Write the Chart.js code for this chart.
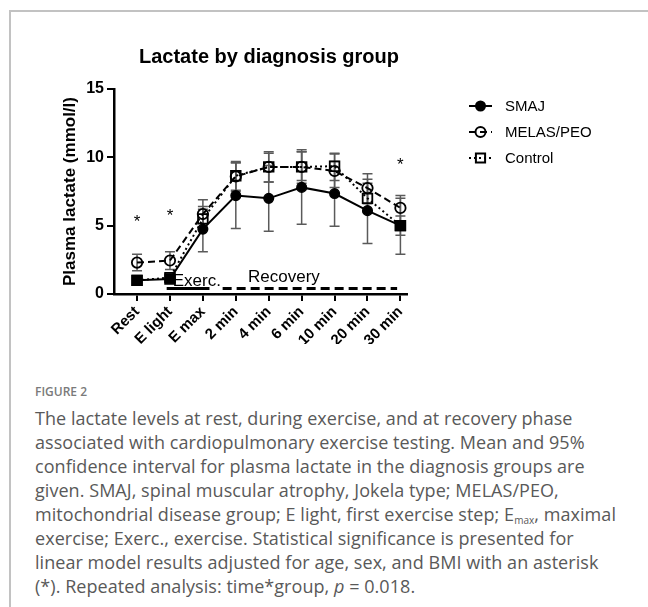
<!DOCTYPE html>
<html>
<head>
<meta charset="utf-8">
<script src="https://cdn.jsdelivr.net/npm/chart.js@4.4.0/dist/chart.umd.min.js"></script>
<style>
body { margin: 0; background: #fff; width: 648px; height: 607px; overflow: hidden; position: relative; }
#frame { position: absolute; left: 9px; top: 10px; width: 650px; height: 610px; border-top: 2px solid #c2c2c2; border-left: 2px solid #c2c2c2; }
#chartOne { position: absolute; left: 0; top: 0; }
#figLabel { position: absolute; left: 35px; top: 383px; font: 600 12px "Open Sans", sans-serif; color: #7a7a7a; }
#caption { position: absolute; left: 35px; top: 406px; font: 18px "Open Sans", sans-serif; letter-spacing: 0.05px; line-height: 24px; color: #595959; white-space: nowrap; }
#caption sub { font-size: 10px; vertical-align: -3px; line-height: 0; }
</style>
</head>
<body>
<div id="frame"></div>
<canvas id="chartOne" width="648" height="350"></canvas>
<div id="figLabel">FIGURE 2</div>
<div id="caption">The lactate levels at rest, during exercise, and at recovery phase<br>associated with cardiopulmonary exercise testing. Mean and 95%<br>confidence interval for plasma lactate in the diagnosis groups are<br>given. SMAJ, spinal muscular atrophy, Jokela type; MELAS/PEO,<br>mitochondrial disease group; E light, first exercise step; E<sub>max</sub>, maximal<br>exercise; Exerc., exercise. Statistical significance is presented for<br>linear model results adjusted for age, sex, and BMI with an asterisk<br>(*). Repeated analysis: time*group, <i>p</i> = 0.018.</div>
<script>
var categories = ["Rest", "E light", "E max", "2 min", "4 min", "6 min", "10 min", "20 min", "30 min"]

var smajMean = [1.0, 1.1, 4.75, 7.2, 7.0, 7.8, 7.35, 6.1, 5.0]
var smajLow = [0.8, 0.9, 3.1, 4.8, 4.6, 5.1, 4.95, 3.7, 2.9]
var smajHigh = [1.2, 1.4, 6.4, 9.6, 9.4, 10.4, 9.7, 8.4, 7.0]

var melasMean = [2.3, 2.45, 5.85, 8.6, 9.3, 9.3, 9.0, 7.75, 6.3]
var melasLow = [1.7, 1.8, 4.8, 7.5, 8.2, 8.1, 7.8, 6.6, 5.3]
var melasHigh = [2.9, 3.1, 6.9, 9.7, 10.4, 10.55, 10.25, 8.8, 7.2]

var controlMean = [1.0, 1.2, 5.5, 8.65, 9.3, 9.3, 9.35, 7.0, 5.0]
var controlLow = [0.9, 1.0, 4.8, 7.6, 8.2, 8.3, 8.3, 6.0, 4.3]
var controlHigh = [1.2, 1.4, 6.2, 9.6, 10.3, 10.4, 10.3, 8.1, 5.7]

var yTicks = [0, 5, 10, 15]

// asterisks: category index and height (mmol/l)
var starAt = [0, 1, 8]
var starHeight = [5.5, 5.9, 9.6]

// phase bars under the curves
var exercPhase = [0.9, 2.2]
var recoveryPhase = [2.6, 7.9]
var phaseLevel = 0.4

function points(values) {
    return values.map(function (v, i) { return { x: i, y: v } })
}

var font = "'Liberation Sans', Arial, sans-serif"

var errorBars = {
    id: "errorBars",
    beforeDatasetsDraw: function (chart) {
        var ctx = chart.ctx
        var xs = chart.scales.x
        var ys = chart.scales.y
        ctx.save()
        ctx.strokeStyle = "#5a5a5a"
        ctx.lineWidth = 1.5
        chart.data.datasets.forEach(function (ds) {
            if (!ds.errLow) return
            ds.errLow.forEach(function (lo, i) {
                var x = xs.getPixelForValue(i)
                var y1 = ys.getPixelForValue(lo)
                var y2 = ys.getPixelForValue(ds.errHigh[i])
                ctx.beginPath()
                ctx.moveTo(x, y1); ctx.lineTo(x, y2)
                ctx.moveTo(x - 5, y1); ctx.lineTo(x + 5, y1)
                ctx.moveTo(x - 5, y2); ctx.lineTo(x + 5, y2)
                ctx.stroke()
            })
        })
        ctx.restore()
    }
}

function marker(ctx, style, r, filled, x, y) {
    ctx.beginPath()
    if (style === "rect") {
        var s = r * Math.SQRT1_2
        ctx.rect(x - s, y - s, 2 * s, 2 * s)
    } else {
        ctx.arc(x, y, r, 0, Math.PI * 2)
    }
    if (filled) ctx.fill()
    ctx.stroke()
}

var extras = {
    id: "extras",
    afterDraw: function (chart) {
        var ctx = chart.ctx
        var xs = chart.scales.x
        var ys = chart.scales.y
        ctx.save()
        ctx.fillStyle = "#000"
        ctx.textAlign = "center"
        ctx.textBaseline = "middle"
        ctx.font = "bold 20px " + font
        ctx.fillText("Lactate by diagnosis group", 269, 57)

        ctx.font = "17px " + font
        starAt.forEach(function (c, i) {
            ctx.fillText("*", xs.getPixelForValue(c), ys.getPixelForValue(starHeight[i]) + 3)
        })

        ctx.font = "17px " + font
        ctx.textAlign = "left"
        ctx.fillText("Exerc.", xs.getPixelForValue(exercPhase[0]) + 6, 281)
        ctx.fillText("Recovery", 248, 277)

        // legend
        chart.data.datasets.forEach(function (ds, i) {
            if (!ds.legend) return
            var y = 106 + 26 * i
            ctx.strokeStyle = "#000"
            ctx.fillStyle = "#000"
            ctx.lineWidth = 2
            ctx.setLineDash(ds.borderDash || [])
            ctx.beginPath()
            ctx.moveTo(469, y); ctx.lineTo(492, y)
            ctx.stroke()
            ctx.setLineDash([])
            ctx.lineWidth = 2
            marker(ctx, ds.legendStyle, ds.legendRadius, ds.legendFilled, 480.5, y)
            ctx.font = "15px " + font
            ctx.fillText(ds.label, 505, y + 1)
        })
        ctx.restore()
    }
}

var getChartOne = document.getElementById("chartOne")

var chartOne = new Chart(getChartOne, {
    type: "line",
    data: {
        datasets: [{
            label: "SMAJ",
            data: points(smajMean),
            errLow: smajLow,
            errHigh: smajHigh,
            legend: true, legendStyle: "circle", legendRadius: 4.5, legendFilled: true,
            borderColor: "#000",
            backgroundColor: "#000",
            borderWidth: 2,
            pointStyle: ["rect", "rect", "circle", "circle", "circle", "circle", "circle", "circle", "rect"],
            pointRadius: [7, 7, 4.8, 4.8, 4.8, 4.8, 4.8, 4.8, 7],
            pointBorderWidth: 1.5
        }, {
            label: "MELAS/PEO",
            data: points(melasMean),
            errLow: melasLow,
            errHigh: melasHigh,
            legend: true, legendStyle: "circle", legendRadius: 5, legendFilled: false,
            borderColor: "#000",
            backgroundColor: "rgba(0,0,0,0)",
            borderWidth: 2,
            borderDash: [7, 4],
            pointStyle: "circle",
            pointRadius: 5.2,
            pointBorderWidth: 1.8
        }, {
            label: "Control",
            data: points(controlMean),
            errLow: controlLow,
            errHigh: controlHigh,
            legend: true, legendStyle: "rect", legendRadius: 6.5, legendFilled: false,
            borderColor: "#000",
            backgroundColor: "rgba(0,0,0,0)",
            borderWidth: 2,
            borderDash: [2, 3],
            pointStyle: "rect",
            pointRadius: 6.8,
            pointBorderWidth: 1.8
        }, {
            label: "Exerc.",
            data: [{ x: exercPhase[0], y: phaseLevel }, { x: exercPhase[1], y: phaseLevel }],
            borderColor: "#000",
            borderWidth: 3,
            pointRadius: 0
        }, {
            label: "Recovery",
            data: [{ x: recoveryPhase[0], y: phaseLevel }, { x: recoveryPhase[1], y: phaseLevel }],
            borderColor: "#000",
            borderWidth: 3,
            borderDash: [9, 5],
            pointRadius: 0
        }]
    },
    options: {
        responsive: false,
        animation: false,
        devicePixelRatio: 1,
        layout: { padding: { left: 54, top: 89, right: 241, bottom: 6 } },
        plugins: {
            legend: { display: false },
            tooltip: { enabled: false }
        },
        scales: {
            x: {
                type: "linear",
                min: -0.7,
                max: 8.2,
                afterBuildTicks: function (scale) {
                    scale.ticks = categories.map(function (c, i) { return { value: i } })
                },
                afterFit: function (scale) { scale.height = 50 },
                ticks: {
                    color: "#000",
                    font: { family: font, size: 15, weight: "bold" },
                    minRotation: 45,
                    maxRotation: 45,
                    padding: 2,
                    callback: function (v) { return categories[v] }
                },
                grid: { drawOnChartArea: false, color: "#000", lineWidth: 2, tickLength: 7 },
                border: { color: "#000", width: 2.5 }
            },
            y: {
                min: 0,
                max: 15,
                afterBuildTicks: function (scale) {
                    scale.ticks = yTicks.map(function (v) { return { value: v } })
                },
                afterFit: function (scale) { scale.width = 60 },
                ticks: {
                    color: "#000",
                    font: { family: font, size: 16, weight: "bold" },
                    padding: 3
                },
                grid: { drawOnChartArea: false, color: "#000", lineWidth: 2, tickLength: 7 },
                border: { color: "#000", width: 2.5 },
                title: {
                    display: true,
                    text: "Plasma lactate (mmol/l)",
                    color: "#000",
                    font: { family: font, size: 17, weight: "bold" },
                    padding: { top: 6, bottom: 0 }
                }
            }
        }
    },
    plugins: [errorBars, extras]
})
</script>
</body>
</html>
